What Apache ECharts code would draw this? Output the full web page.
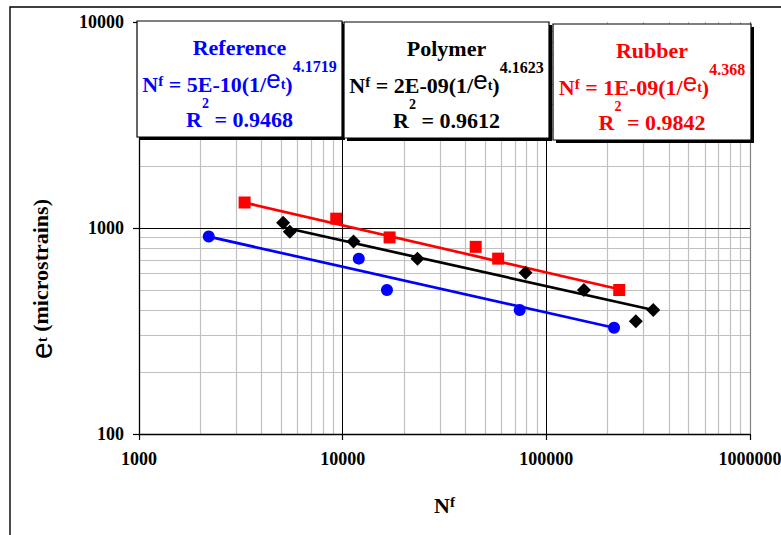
<!DOCTYPE html>
<html><head><meta charset="utf-8">
<script src="https://cdn.jsdelivr.net/npm/echarts@6/dist/echarts.min.js"></script>
<style>html,body{margin:0;padding:0;background:#fff}#c{width:781px;height:535px}</style>
</head><body><div id="c"></div>
<script>
// ---- data ----
const refN = [2200, 12000, 16500, 74000, 215000];
const refE = [910, 710, 500, 400, 328];
const polyN = [5100, 5500, 11300, 23300, 79000, 153000, 275000, 335000];
const polyE = [1060, 960, 860, 710, 607, 500, 353, 400];
const rubN = [3300, 9300, 17000, 45000, 58000, 228000];
const rubE = [1330, 1110, 900, 810, 710, 500];
const refTrendN = [2200, 215000];
const refTrendE = [908, 328];
const polyTrendN = [5100, 335000];
const polyTrendE = [1008, 400];
const rubTrendN = [3300, 228000];
const rubTrendE = [1328, 504];
const xTicks = [1000, 10000, 100000, 1000000];
const yTicks = [100, 1000, 10000];
const minorX = [2000,3000,4000,5000,6000,7000,8000,9000,20000,30000,40000,50000,60000,70000,80000,90000,200000,300000,400000,500000,600000,700000,800000,900000];
const minorY = [200,300,400,500,600,700,800,900,2000,3000,4000,5000,6000,7000,8000,9000];
const boxTitles = ['Reference', 'Polymer', 'Rubber'];
const boxCoefs = ['5E-10', '2E-09', '1E-09'];
const boxExps = ['4.1719', '4.1623', '4.368'];
const boxR2 = ['0.9468', '0.9612', '0.9842'];

const zip = (a, b) => a.map((v, i) => [v, b[i]]);

// ---- text helpers ----
const ctx = document.createElement('canvas').getContext('2d');
function tw(t, f) { ctx.font = f; return ctx.measureText(t).width; }
const B = s => 'bold ' + s + 'px "Liberation Serif"';
const S = s => s + 'px "Liberation Sans"';
function midY(baseline, f) {
  const size = parseFloat(f.match(/(\d+(\.\d+)?)px/)[1]);
  const k = f.indexOf('Sans') >= 0 ? 0.3465 : 0.3375;
  return baseline - k * size;
}
function pieces(list, startX, baseline, color, z) {
  let x = startX;
  return list.map(p => {
    const el = {
      type: 'text', x: x, y: midY(baseline + (p.dy || 0), p.f), z: z, silent: true,
      style: { text: p.t, font: p.f, fill: color, textAlign: 'left', textVerticalAlign: 'middle' }
    };
    x += tw(p.t, p.f);
    return el;
  });
}
function centered(list, cx, baseline, color, z) {
  const total = list.reduce((s, p) => s + tw(p.t, p.f), 0);
  return pieces(list, cx - total / 2, baseline, color, z);
}

const boxPos = [
  { x: 137, y: 21, w: 205, h: 116, color: '#0000FF' },
  { x: 344, y: 22, w: 205, h: 116, color: '#000000' },
  { x: 553, y: 24, w: 198, h: 116, color: '#FF0000' }
];
const graphics = [];
graphics.push({ type: 'rect', shape: { x: 10, y: 7, width: 1000, height: 1000 }, style: { fill: 'none', stroke: '#000', lineWidth: 1.4 }, z: 100, silent: true });
boxPos.forEach((b, i) => {
  graphics.push({ type: 'rect', shape: { x: b.x + 3, y: b.y + 3, width: b.w, height: b.h }, style: { fill: '#000' }, z: 100, silent: true });
  graphics.push({ type: 'rect', shape: { x: b.x, y: b.y, width: b.w, height: b.h }, style: { fill: '#fff', stroke: '#000', lineWidth: 1.2 }, z: 101, silent: true });
  const cx = b.x + b.w / 2;
  graphics.push(...centered([{ t: boxTitles[i], f: B(22) }], cx, b.y + 34, b.color, 102));
  graphics.push(...centered([
    { t: 'N', f: B(22) },
    { t: 'f', f: B(15), dy: -6 },
    { t: '\u00a0=\u00a0' + boxCoefs[i] + '(1/', f: B(22) },
    { t: 'e', f: S(26), dy: -4 },
    { t: 't', f: B(14), dy: -2.5 },
    { t: ')', f: B(22) },
    { t: boxExps[i], f: B(16), dy: -20 }
  ], cx, b.y + 71, b.color, 102));
  graphics.push(...centered([
    { t: 'R', f: B(22) },
    { t: '2', f: B(14), dy: -19 },
    { t: '\u00a0=\u00a0' + boxR2[i], f: B(22) }
  ], cx, b.y + 106, b.color, 102));
});
// x axis title
graphics.push(...centered([{ t: 'N', f: B(22) }, { t: 'f', f: B(15), dy: -5 }], 444.5, 512.5, '#000', 102));
// y axis title (rotated)
graphics.push({
  type: 'group', x: 48, y: 359, rotation: Math.PI / 2, z: 102,
  children: pieces([
    { t: 'e', f: S(30), dy: 4 },
    { t: 't', f: B(15), dy: -1 },
    { t: '\u00a0(microstrains)', f: B(22) }
  ], 0, 0, '#000', 102)
});

const gridLines = minorX.map(v => ({ xAxis: v }))
  .concat(minorY.map(v => ({ yAxis: v })))
  .concat([{ xAxis: xTicks[xTicks.length - 1], lineStyle: { color: '#808080', width: 1.2 } }]);

const fmt = ticks => v => { const r = Math.round(v); return ticks.indexOf(r) >= 0 ? String(r) : ''; };
const axisCommon = {
  type: 'log', logBase: 10, z: 1.5,
  axisLine: { show: true, lineStyle: { color: '#000', width: 1.3 } },
  axisTick: { show: true, inside: false, length: 6, lineStyle: { color: '#000', width: 1.2 } },
  splitLine: { show: true, showMinLine: false, showMaxLine: false, lineStyle: { color: '#000', width: 1 } },
  minorTick: { show: false }, minorSplitLine: { show: false }
};

const chart = echarts.init(document.getElementById('c'), null, { renderer: 'svg' });
chart.setOption({
  animation: false,
  backgroundColor: '#fff',
  grid: { left: 139, right: 31, top: 22, bottom: 101, containLabel: false, outerBoundsMode: 'none' },
  xAxis: Object.assign({}, axisCommon, {
    min: xTicks[0], max: xTicks[xTicks.length - 1],
    axisLabel: { formatter: fmt(xTicks), fontFamily: 'Liberation Serif', fontWeight: 'bold', fontSize: 18, color: '#000', margin: 16, hideOverlap: false }
  }),
  yAxis: Object.assign({}, axisCommon, {
    min: yTicks[0], max: yTicks[yTicks.length - 1],
    axisLabel: { formatter: fmt(yTicks), fontFamily: 'Liberation Serif', fontWeight: 'bold', fontSize: 18, color: '#000', margin: 15, hideOverlap: false }
  }),
  series: [
    {
      type: 'line', name: 'grid', data: [[xTicks[0], yTicks[0]]], showSymbol: false, silent: true, z: 1,
      lineStyle: { opacity: 0 },
      markLine: { silent: true, z: 1, animation: false, symbol: ['none', 'none'], label: { show: false },
        lineStyle: { color: '#c0c0c0', width: 1.2, type: 'solid' }, emphasis: { disabled: true }, data: gridLines }
    },
    { type: 'line', name: 'Reference fit', data: zip(refTrendN, refTrendE), showSymbol: false, z: 2, silent: true, lineStyle: { color: '#0000FF', width: 2.7 } },
    { type: 'line', name: 'Polymer fit', data: zip(polyTrendN, polyTrendE), showSymbol: false, z: 2, silent: true, lineStyle: { color: '#000000', width: 2.7 } },
    { type: 'line', name: 'Rubber fit', data: zip(rubTrendN, rubTrendE), showSymbol: false, z: 2, silent: true, lineStyle: { color: '#FF0000', width: 2.7 } },
    { type: 'scatter', name: 'Reference', data: zip(refN, refE), symbol: 'circle', symbolSize: 12, z: 3, itemStyle: { color: '#0000FF', opacity: 1 } },
    { type: 'scatter', name: 'Polymer', data: zip(polyN, polyE), symbol: 'diamond', symbolSize: 14, z: 3, itemStyle: { color: '#000000', opacity: 1 } },
    { type: 'scatter', name: 'Rubber', data: zip(rubN, rubE), symbol: 'rect', symbolSize: 12, z: 3, itemStyle: { color: '#FF0000', opacity: 1 } }
  ],
  graphic: { elements: graphics }
});
</script></body></html>
